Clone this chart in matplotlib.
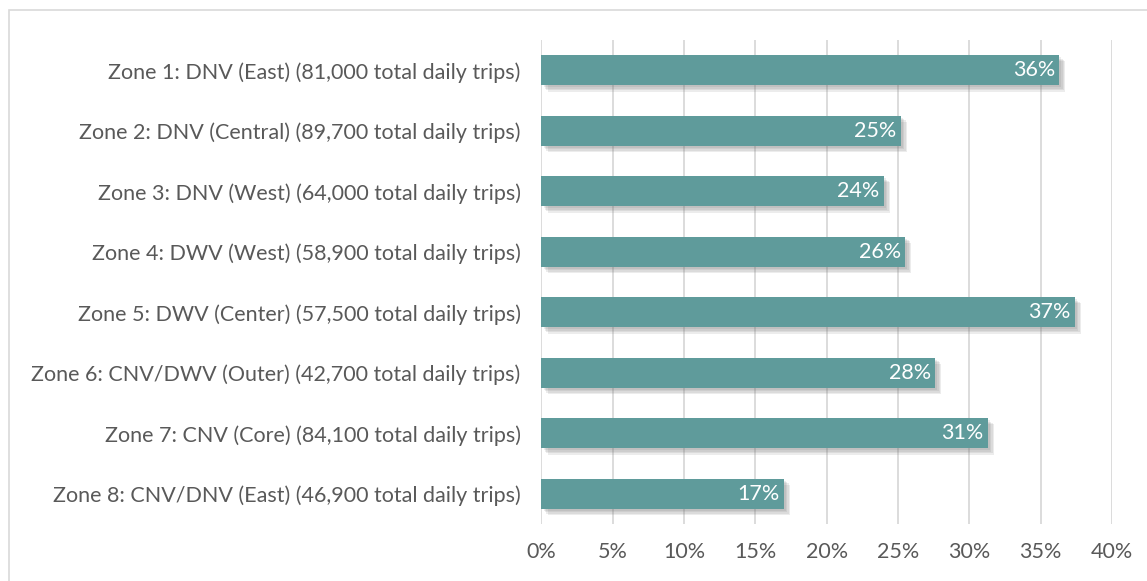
import matplotlib
matplotlib.use('Agg')
from matplotlib import pyplot as plt
from matplotlib import patheffects
from matplotlib.patches import Rectangle
import matplotlib.ticker as ticker

zones = [
    "Zone 1: DNV (East) (81,000 total daily trips)",
    "Zone 2: DNV (Central) (89,700 total daily trips)",
    "Zone 3: DNV (West) (64,000 total daily trips)",
    "Zone 4: DWV (West) (58,900 total daily trips)",
    "Zone 5: DWV (Center) (57,500 total daily trips)",
    "Zone 6: CNV/DWV (Outer) (42,700 total daily trips)",
    "Zone 7: CNV (Core) (84,100 total daily trips)",
    "Zone 8: CNV/DNV (East) (46,900 total daily trips)",
]
shares = [0.363, 0.252, 0.240, 0.255, 0.374, 0.276, 0.313, 0.170]
x_ticks = [0, 0.05, 0.10, 0.15, 0.20, 0.25, 0.30, 0.35, 0.40]

bar_color = '#5F9B9B'
text_color = '#595959'
grid_color = '#D9D9D9'
fs = 15.5

plt.rcParams['font.family'] = ['Lato', 'DejaVu Sans']

fig = plt.figure(figsize=(11.47, 5.81), dpi=100)
ax = fig.add_axes([0.4721, 0.0981, 0.4974, 0.8331])

# light frame round the chart area
fig.patches.append(Rectangle((9 / 1147, -0.1), 1.2, 1 - 10 / 581 + 0.1,
                             transform=fig.transFigure, fill=False,
                             edgecolor='#D9D9D9', linewidth=1.2))

y = list(range(len(zones)))
bars = ax.barh(y, shares, height=0.5, color=bar_color, zorder=3)
# soft drop shadow, a few offset layers to fake the blur
shadow = [patheffects.SimplePatchShadow(offset=(o, -o), shadow_rgbFace='#707070', alpha=0.13)
          for o in (1.5, 2.5, 3.5, 4.5)]
for b in bars:
    b.set_path_effects(shadow + [patheffects.Normal()])

for yi, v in zip(y, shares):
    ax.text(v - 0.003, yi, '{:.0f}%'.format(v * 100), ha='right', va='center',
            color='white', fontsize=fs, zorder=4)

ax.set_ylim(len(zones) - 0.5, -0.5)
ax.set_xlim(0, 0.40)
ax.set_yticks(y)
ax.set_yticklabels(zones)
ax.set_xticks(x_ticks)
ax.xaxis.set_major_formatter(ticker.FuncFormatter(lambda v, p: '{:.0f}%'.format(v * 100)))
ax.tick_params(axis='both', length=0, labelsize=fs, labelcolor=text_color)
ax.tick_params(axis='y', pad=15)
ax.tick_params(axis='x', pad=13)
ax.grid(axis='x', color=grid_color, linewidth=1.3, zorder=0)
ax.set_axisbelow(True)
for s in ax.spines.values():
    s.set_visible(False)

fig.savefig('out.png', dpi=100)
